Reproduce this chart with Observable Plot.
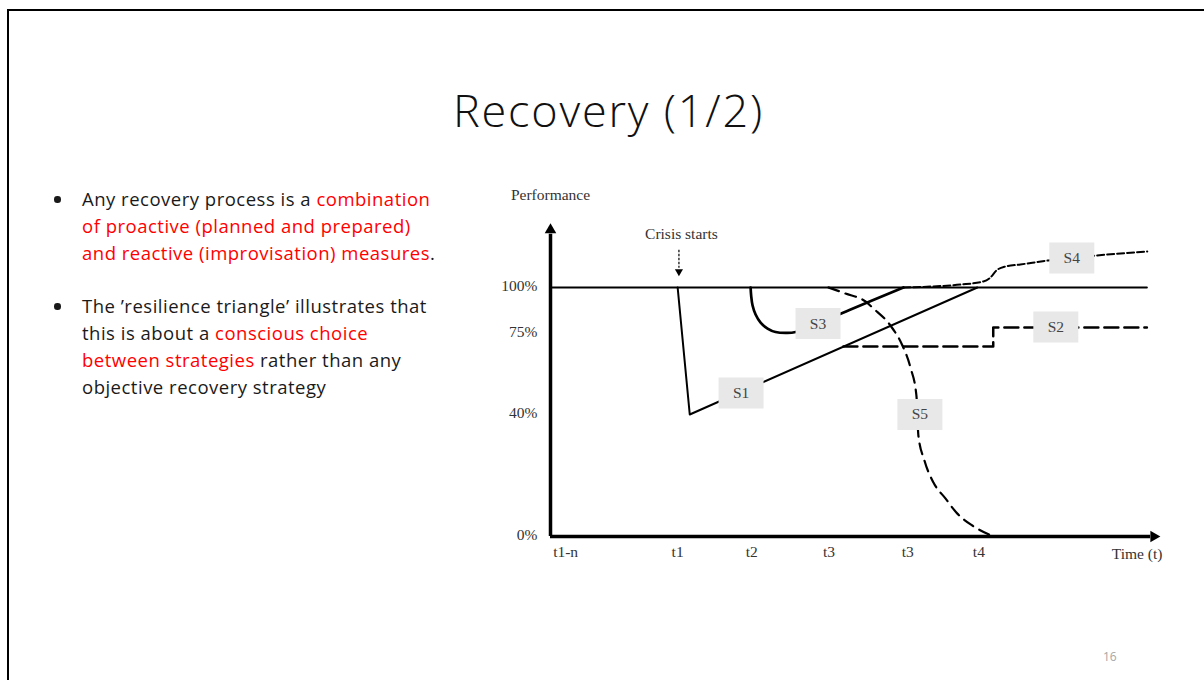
<!DOCTYPE html>
<html>
<head>
<meta charset="utf-8">
<script src="https://cdn.jsdelivr.net/npm/d3@7"></script>
<script src="https://cdn.jsdelivr.net/npm/@observablehq/plot@0.6"></script>
<style>
  html, body { margin: 0; padding: 0; background: #fff; }
  body { width: 1204px; height: 680px; position: relative; overflow: hidden; font-family: "Open Sans", Lato, sans-serif; }
  #frame { position: absolute; left: 7px; top: 9px; width: 1400px; height: 900px; border-top: 2px solid #000; border-left: 2px solid #000; }
  #title { position: absolute; left: 0; width: 1217px; top: 80px; text-align: center; font-size: 45px; font-weight: 300; letter-spacing: 1.8px; color: #111; line-height: 60px; }
  #bullets { position: absolute; left: 82px; top: 186px; font-size: 18.5px; letter-spacing: 0.5px; line-height: 26.8px; color: #1a1a1a; white-space: nowrap; }
  .dot { position: absolute; left: 54px; width: 6.5px; height: 6.5px; border-radius: 50%; background: #1a1a1a; }
  .red { color: #ff0000; }
  #page { position: absolute; left: 1103px; top: 648px; font-size: 12px; color: #a6a6a6; }
  #chart { position: absolute; left: 490px; top: 180px; }
</style>
</head>
<body>
<div id="frame"></div>
<div id="title">Recovery (1/2)</div>
<div class="dot" style="top:196px"></div>
<div class="dot" style="top:303px"></div>
<div id="bullets">
Any recovery process is a <span class="red">combination</span><br>
<span class="red">of proactive (planned and prepared)</span><br>
<span class="red">and reactive (improvisation) measures</span>.<br>
&nbsp;<br>
The ’resilience triangle’ illustrates that<br>
this is about a <span class="red">conscious choice</span><br>
<span class="red">between strategies</span> rather than any<br>
objective recovery strategy
</div>
<div id="page">16</div>
<div id="chart"></div>
<script>
// Time axis: labelled instants (in time units, t1 = 1)
const tickTimes = [-0.48, 1.0, 1.98, 3.0, 4.04, 4.98];
const tickLabels = ["t1-n", "t1", "t2", "t3", "t3", "t4"];

// Performance axis: labelled levels
const perfTicks = [0, 40, 75, 100];
const perfLabels = ["0%", "40%", "75%", "100%"];

// Normal performance level
const baseline = [[-0.68, 100], [7.2, 100]];

// Strategy paths as [time, performance %]
const s1 = [[1.0, 100], [1.16, 40], [4.96, 100]];
const s2 = [[3.19, 69.4], [5.17, 69.4], [5.17, 78.3], [7.2, 78.3]];
const s3 = [[1.964, 100], [1.971, 95.7], [1.99, 90.2], [2.03, 85.3], [2.096, 80.9], [2.188, 77.7],
            [2.294, 75.8], [2.426, 75.3], [2.56, 75.8], [3.27, 87.8], [3.983, 100]];
const s4 = [[3.983, 100], [4.34, 100.5], [4.736, 101.6], [5.04, 103.3], [5.132, 105.4], [5.211, 109.2],
            [5.33, 111.4], [5.528, 112.5], [5.898, 114.7], [6.531, 117.4], [7.205, 119.6]];
const s5 = [[2.993, 100], [3.218, 96.7], [3.482, 92.4], [3.587, 88.6], [3.812, 79.3], [3.97, 69.8],
            [4.076, 60.3], [4.155, 48.2], [4.181, 33.1], [4.261, 24.9], [4.38, 17.7], [4.538, 12.5],
            [4.696, 7.5], [4.894, 3.6], [5.172, 0]];

// Strategy name tags
const tagNames = ["S1", "S2", "S3", "S4", "S5"];
const tagTimes = [1.838, 5.997, 2.855, 6.208, 4.201];
const tagPerf = [49.3, 78.5, 80.4, 116.0, 40];

const tags = tagNames.map((name, i) => ({name, t: tagTimes[i], p: tagPerf[i]}));
const px = d => d[0], py = d => d[1];

const xOrigin = -0.68;
const boxSymbol = {draw(ctx) { ctx.rect(-22.5, -15.5, 45, 31); }};

const chart = Plot.plot({
  width: 700,
  height: 390,
  marginLeft: 60,
  marginRight: 30,
  marginTop: 45,
  marginBottom: 34,
  style: {fontFamily: "'Liberation Serif', 'Times New Roman', serif", fontSize: "15.5px", background: "transparent", overflow: "visible", color: "#333"},
  x: {type: "linear", domain: [xOrigin, 7.38], range: [60, 670]},
  y: {type: "linear", domain: [0, 40, 75, 100, 125], range: [356, 234, 153, 107, 61]},
  marks: [
    // axes with arrowheads
    Plot.ruleX([xOrigin], {y1: 0, y2: 129, stroke: "#000", strokeWidth: 3.5}),
    Plot.ruleY([0], {x1: xOrigin, x2: 7.25, stroke: "#000", strokeWidth: 3.5}),
    Plot.dot([[xOrigin, 131.3]], {x: px, y: py, symbol: "triangle", r: 4.3, fill: "#000", stroke: null}),
    Plot.dot([[7.29, 0]], {x: px, y: py, symbol: "triangle", r: 4.3, fill: "#000", stroke: null, rotate: 90}),
    Plot.axisX({ticks: tickTimes, tickFormat: d => tickLabels[tickTimes.indexOf(d)], tickSize: 0, tickPadding: 9, label: null, fill: "#333"}),
    Plot.axisY({ticks: perfTicks, tickFormat: d => perfLabels[perfTicks.indexOf(d)], tickSize: 0, tickPadding: 13, label: null, fill: "#333", dy: -1}),
    Plot.text(["Performance"], {x: xOrigin, y: 150, text: d => d, fill: "#333"}),
    Plot.text(["Time (t)"], {x: 7.07, y: -5.6, text: d => d, fill: "#333"}),

    // crisis marker
    Plot.text(["Crisis starts"], {x: 1.05, y: 128.8, text: d => d, fill: "#333"}),
    Plot.ruleX([1.017], {y1: 120.3, y2: 110.5, stroke: "#000", strokeWidth: 1.2, strokeDasharray: "2.5,1.5"}),
    Plot.dot([[1.017, 108.6]], {x: px, y: py, symbol: "triangle", r: 3, fill: "#000", stroke: null, rotate: 180}),

    // normal level and strategies
    Plot.line(baseline, {x: px, y: py, stroke: "#000", strokeWidth: 2}),
    Plot.line(s1, {x: px, y: py, stroke: "#000", strokeWidth: 2}),
    Plot.line(s2, {x: px, y: py, stroke: "#000", strokeWidth: 2.5, strokeDasharray: "14,6"}),
    Plot.line(s3, {x: px, y: py, stroke: "#000", strokeWidth: 2.7, curve: "catmull-rom"}),
    Plot.line(s4, {x: px, y: py, stroke: "#000", strokeWidth: 2, strokeDasharray: "7,3", curve: "monotone-x"}),
    Plot.line(s5, {x: px, y: py, stroke: "#000", strokeWidth: 2.2, strokeDasharray: "11,7", curve: "monotone-x"}),

    // strategy tags
    Plot.dot(tags, {x: "t", y: "p", symbol: boxSymbol, fill: "#e8e8e8", stroke: null}),
    Plot.text(tags, {x: "t", y: "p", text: "name", fill: "#444"})
  ]
});
document.getElementById("chart").append(chart);
</script>
</body>
</html>
